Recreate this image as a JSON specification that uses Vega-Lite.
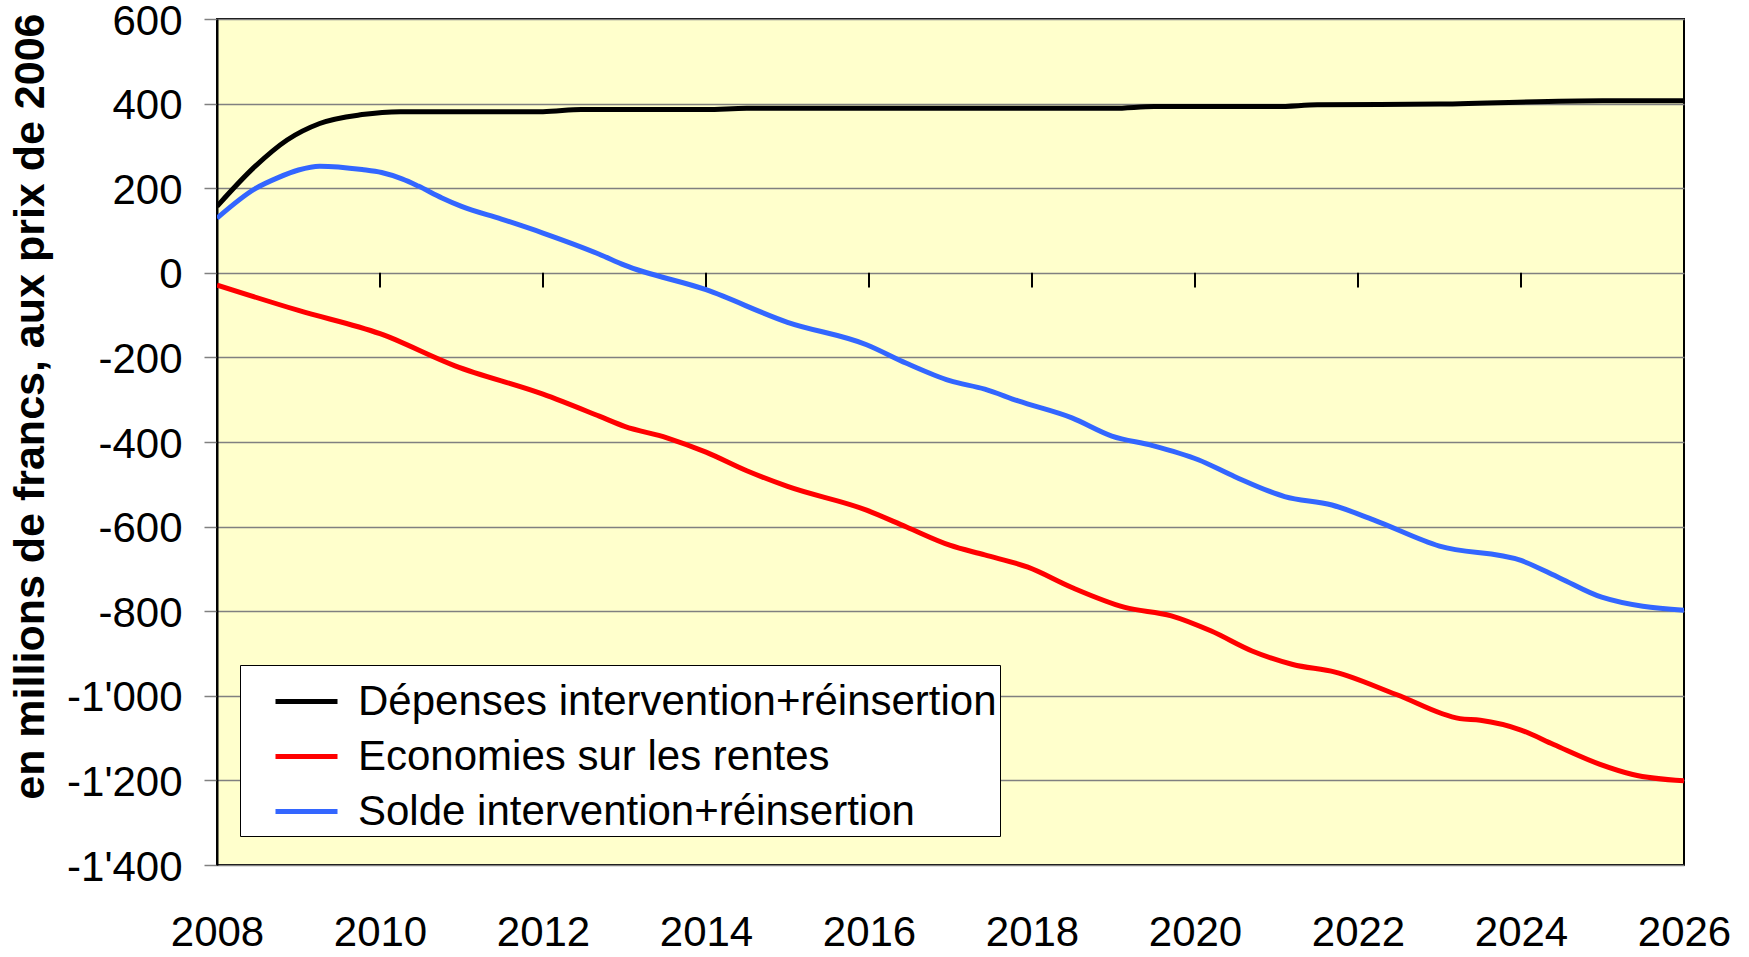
{
  "$schema": "https://vega.github.io/schema/vega-lite/v6.json",
  "autosize": "none",
  "width": 1467,
  "height": 846,
  "padding": {"left": 217, "top": 19, "right": 65, "bottom": 92},
  "background": "white",
  "config": {
    "view": {"fill": "#FFFFCC", "stroke": "black", "strokeWidth": 2},
    "font": "Liberation Sans"
  },
  "datasets": {
    "series": [
      {"series": "Dépenses intervention+réinsertion", "year": 2008.0, "value": 157},
      {"series": "Dépenses intervention+réinsertion", "year": 2008.47, "value": 252},
      {"series": "Dépenses intervention+réinsertion", "year": 2008.86, "value": 314},
      {"series": "Dépenses intervention+réinsertion", "year": 2009.26, "value": 353},
      {"series": "Dépenses intervention+réinsertion", "year": 2009.78, "value": 374},
      {"series": "Dépenses intervention+réinsertion", "year": 2010.25, "value": 381},
      {"series": "Dépenses intervention+réinsertion", "year": 2012.0, "value": 381},
      {"series": "Dépenses intervention+réinsertion", "year": 2012.47, "value": 386},
      {"series": "Dépenses intervention+réinsertion", "year": 2014.0, "value": 386},
      {"series": "Dépenses intervention+réinsertion", "year": 2014.5, "value": 389},
      {"series": "Dépenses intervention+réinsertion", "year": 2019.0, "value": 389},
      {"series": "Dépenses intervention+réinsertion", "year": 2019.5, "value": 393},
      {"series": "Dépenses intervention+réinsertion", "year": 2021.0, "value": 393},
      {"series": "Dépenses intervention+réinsertion", "year": 2021.5, "value": 397},
      {"series": "Dépenses intervention+réinsertion", "year": 2023.0, "value": 399},
      {"series": "Dépenses intervention+réinsertion", "year": 2025.0, "value": 407},
      {"series": "Dépenses intervention+réinsertion", "year": 2026.0, "value": 407},

      {"series": "Economies sur les rentes", "year": 2008.0, "value": -29},
      {"series": "Economies sur les rentes", "year": 2009.0, "value": -89},
      {"series": "Economies sur les rentes", "year": 2010.0, "value": -144},
      {"series": "Economies sur les rentes", "year": 2010.92, "value": -220},
      {"series": "Economies sur les rentes", "year": 2012.0, "value": -287},
      {"series": "Economies sur les rentes", "year": 2012.69, "value": -339},
      {"series": "Economies sur les rentes", "year": 2013.0, "value": -363},
      {"series": "Economies sur les rentes", "year": 2013.52, "value": -390},
      {"series": "Economies sur les rentes", "year": 2014.0, "value": -424},
      {"series": "Economies sur les rentes", "year": 2014.5, "value": -468},
      {"series": "Economies sur les rentes", "year": 2015.0, "value": -505},
      {"series": "Economies sur les rentes", "year": 2015.97, "value": -561},
      {"series": "Economies sur les rentes", "year": 2016.46, "value": -601},
      {"series": "Economies sur les rentes", "year": 2016.99, "value": -644},
      {"series": "Economies sur les rentes", "year": 2017.42, "value": -667},
      {"series": "Economies sur les rentes", "year": 2017.95, "value": -696},
      {"series": "Economies sur les rentes", "year": 2018.49, "value": -744},
      {"series": "Economies sur les rentes", "year": 2019.14, "value": -791},
      {"series": "Economies sur les rentes", "year": 2019.71, "value": -811},
      {"series": "Economies sur les rentes", "year": 2020.2, "value": -847},
      {"series": "Economies sur les rentes", "year": 2020.7, "value": -894},
      {"series": "Economies sur les rentes", "year": 2021.2, "value": -926},
      {"series": "Economies sur les rentes", "year": 2021.72, "value": -944},
      {"series": "Economies sur les rentes", "year": 2022.47, "value": -997},
      {"series": "Economies sur les rentes", "year": 2023.25, "value": -1054},
      {"series": "Economies sur les rentes", "year": 2023.5, "value": -1058},
      {"series": "Economies sur les rentes", "year": 2024.0, "value": -1081},
      {"series": "Economies sur les rentes", "year": 2024.4, "value": -1115},
      {"series": "Economies sur les rentes", "year": 2024.97, "value": -1162},
      {"series": "Economies sur les rentes", "year": 2025.37, "value": -1186},
      {"series": "Economies sur les rentes", "year": 2026.0, "value": -1201},

      {"series": "Solde intervention+réinsertion", "year": 2008.0, "value": 129},
      {"series": "Solde intervention+réinsertion", "year": 2008.47, "value": 199},
      {"series": "Solde intervention+réinsertion", "year": 2008.75, "value": 225},
      {"series": "Solde intervention+réinsertion", "year": 2009.0, "value": 243},
      {"series": "Solde intervention+réinsertion", "year": 2009.26, "value": 252},
      {"series": "Solde intervention+réinsertion", "year": 2009.78, "value": 244},
      {"series": "Solde intervention+réinsertion", "year": 2010.02, "value": 237},
      {"series": "Solde intervention+réinsertion", "year": 2010.27, "value": 222},
      {"series": "Solde intervention+réinsertion", "year": 2010.47, "value": 205},
      {"series": "Solde intervention+réinsertion", "year": 2010.76, "value": 177},
      {"series": "Solde intervention+réinsertion", "year": 2011.0, "value": 157},
      {"series": "Solde intervention+réinsertion", "year": 2011.49, "value": 127},
      {"series": "Solde intervention+réinsertion", "year": 2012.0, "value": 94},
      {"series": "Solde intervention+réinsertion", "year": 2012.69, "value": 44},
      {"series": "Solde intervention+réinsertion", "year": 2013.0, "value": 18},
      {"series": "Solde intervention+réinsertion", "year": 2014.0, "value": -40},
      {"series": "Solde intervention+réinsertion", "year": 2015.0, "value": -117},
      {"series": "Solde intervention+réinsertion", "year": 2015.97, "value": -170},
      {"series": "Solde intervention+réinsertion", "year": 2016.46, "value": -214},
      {"series": "Solde intervention+réinsertion", "year": 2016.99, "value": -255},
      {"series": "Solde intervention+réinsertion", "year": 2017.42, "value": -275},
      {"series": "Solde intervention+réinsertion", "year": 2017.83, "value": -303},
      {"series": "Solde intervention+réinsertion", "year": 2018.49, "value": -343},
      {"series": "Solde intervention+réinsertion", "year": 2018.98, "value": -386},
      {"series": "Solde intervention+réinsertion", "year": 2019.47, "value": -408},
      {"series": "Solde intervention+réinsertion", "year": 2020.04, "value": -442},
      {"series": "Solde intervention+réinsertion", "year": 2020.49, "value": -482},
      {"series": "Solde intervention+réinsertion", "year": 2021.1, "value": -529},
      {"series": "Solde intervention+réinsertion", "year": 2021.68, "value": -549},
      {"series": "Solde intervention+réinsertion", "year": 2022.19, "value": -584},
      {"series": "Solde intervention+réinsertion", "year": 2023.0, "value": -646},
      {"series": "Solde intervention+réinsertion", "year": 2024.0, "value": -680},
      {"series": "Solde intervention+réinsertion", "year": 2024.48, "value": -722},
      {"series": "Solde intervention+réinsertion", "year": 2024.99, "value": -767},
      {"series": "Solde intervention+réinsertion", "year": 2026.0, "value": -798}
    ],
    "ticks": [
      {"year": 2010}, {"year": 2012}, {"year": 2014}, {"year": 2016},
      {"year": 2018}, {"year": 2020}, {"year": 2022}, {"year": 2024}
    ]
  },
  "layer": [
    {
      "mark": {"type": "rule", "color": "black", "strokeWidth": 2.5},
      "encoding": {"y": {"datum": 0, "type": "quantitative", "scale": {"domain": [-1400, 600], "nice": false}}}
    },
    {
      "data": {"name": "ticks"},
      "mark": {"type": "rule", "color": "black", "strokeWidth": 2},
      "encoding": {
        "x": {"field": "year", "type": "quantitative"},
        "y": {"datum": 0, "type": "quantitative"},
        "y2": {"datum": -35}
      }
    },
    {
      "data": {"name": "series"},
      "mark": {"type": "line", "interpolate": "monotone", "strokeWidth": 5, "clip": true},
      "encoding": {
        "x": {
          "field": "year", "type": "quantitative",
          "scale": {"domain": [2008, 2026], "nice": false, "zero": false},
          "axis": {
            "title": null, "values": [2008, 2010, 2012, 2014, 2016, 2018, 2020, 2022, 2024, 2026],
            "format": "d", "grid": false, "ticks": false, "domain": false,
            "labelFont": "Liberation Sans", "labelFontSize": 42, "labelColor": "black",
            "labelPadding": 47, "labelFlush": false, "labelOverlap": false
          }
        },
        "y": {
          "field": "value", "type": "quantitative",
          "scale": {"domain": [-1400, 600], "nice": false},
          "axis": {
            "title": "en millions de francs, aux prix de 2006",
            "titleFont": "Liberation Sans", "titleFontSize": 43, "titleFontWeight": "bold", "titleColor": "black",
            "titleAnchor": "end", "titlePadding": 14, "titleY": -6,
            "values": [-1400, -1200, -1000, -800, -600, -400, -200, 0, 200, 400, 600],
            "labelExpr": "(datum.value < 0 ? '-' : '') + replace(format(abs(datum.value), ','), ',', \"'\")",
            "labelFont": "Liberation Sans", "labelFontSize": 42, "labelColor": "black",
            "labelPadding": 22, "labelOffset": 2, "tickSize": 13, "tickColor": "#808080", "tickWidth": 1.5,
            "grid": true, "gridColor": "#808080", "gridWidth": 1.5,
            "domain": true, "domainColor": "black", "domainWidth": 2,
            "labelFlush": false, "labelOverlap": false
          }
        },
        "color": {
          "field": "series", "type": "nominal",
          "scale": {
            "domain": ["Dépenses intervention+réinsertion", "Economies sur les rentes", "Solde intervention+réinsertion"],
            "range": ["#000000", "#FF0000", "#3366FF"]
          },
          "legend": {
            "title": null, "orient": "none", "legendX": 23, "legendY": 646,
            "fillColor": "white", "strokeColor": "black",
            "padding": 3, "rowPadding": 0,
            "symbolType": "stroke", "symbolSize": 3844, "symbolStrokeWidth": 5, "symbolOffset": 30,
            "labelFont": "Liberation Sans", "labelFontSize": 42, "labelColor": "black",
            "labelOffset": 18, "labelLimit": 1000
          }
        }
      }
    }
  ]
}
